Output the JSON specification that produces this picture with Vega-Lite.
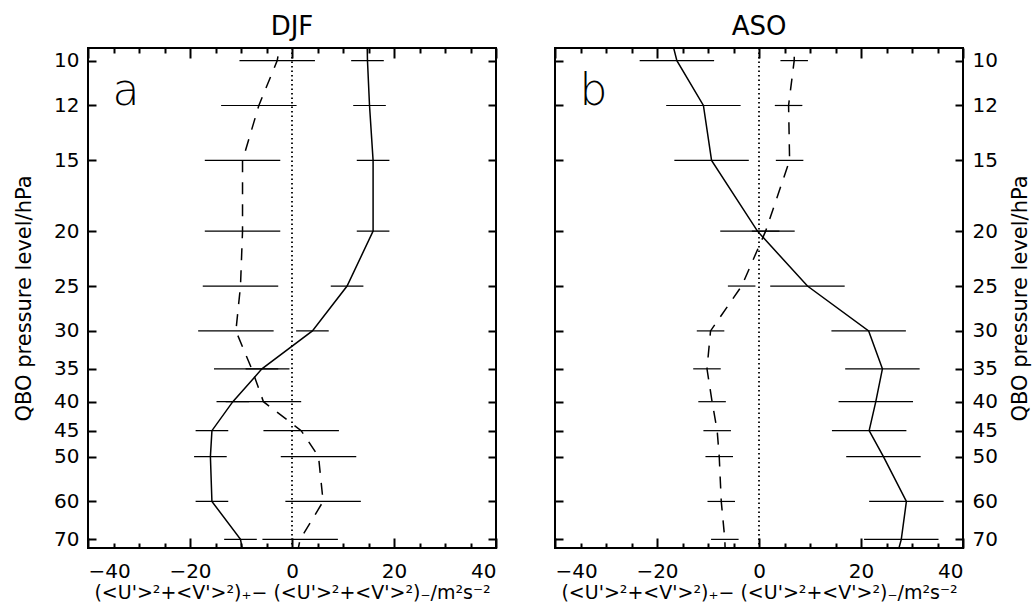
{
  "$schema": "https://vega.github.io/schema/vega-lite/v6.json",
  "padding": {"left": 12, "top": 13, "right": 0, "bottom": 0},
  "background": "white",
  "spacing": 59,
  "bounds": "flush",
  "datasets": {
    "prof": [
      {"season": "DJF", "series": "solid", "p": 9, "v": 14.7},
      {"season": "DJF", "series": "solid", "p": 10, "v": 14.8, "lo": 11.6, "hi": 18.0},
      {"season": "DJF", "series": "solid", "p": 12, "v": 15.2, "lo": 12.0, "hi": 18.4},
      {"season": "DJF", "series": "solid", "p": 15, "v": 15.9, "lo": 12.7, "hi": 19.1},
      {"season": "DJF", "series": "solid", "p": 20, "v": 15.9, "lo": 12.7, "hi": 19.1},
      {"season": "DJF", "series": "solid", "p": 25, "v": 10.8, "lo": 7.6, "hi": 14.0},
      {"season": "DJF", "series": "solid", "p": 30, "v": 4.0, "lo": 0.8, "hi": 7.2},
      {"season": "DJF", "series": "solid", "p": 35, "v": -5.9, "lo": -9.1, "hi": -2.7},
      {"season": "DJF", "series": "solid", "p": 40, "v": -11.6, "lo": -14.8, "hi": -8.4},
      {"season": "DJF", "series": "solid", "p": 45, "v": -15.7, "lo": -18.9, "hi": -12.5},
      {"season": "DJF", "series": "solid", "p": 50, "v": -16.0, "lo": -19.2, "hi": -12.8},
      {"season": "DJF", "series": "solid", "p": 60, "v": -15.7, "lo": -18.9, "hi": -12.5},
      {"season": "DJF", "series": "solid", "p": 70, "v": -10.1, "lo": -13.3, "hi": -6.9},
      {"season": "DJF", "series": "solid", "p": 75, "v": -9.5},
      {"season": "DJF", "series": "dashed", "p": 9, "v": -2.0},
      {"season": "DJF", "series": "dashed", "p": 10, "v": -2.9, "lo": -10.3, "hi": 4.5},
      {"season": "DJF", "series": "dashed", "p": 12, "v": -6.5, "lo": -13.9, "hi": 0.9},
      {"season": "DJF", "series": "dashed", "p": 15, "v": -9.7, "lo": -17.1, "hi": -2.3},
      {"season": "DJF", "series": "dashed", "p": 20, "v": -9.7, "lo": -17.1, "hi": -2.3},
      {"season": "DJF", "series": "dashed", "p": 25, "v": -10.1, "lo": -17.5, "hi": -2.7},
      {"season": "DJF", "series": "dashed", "p": 30, "v": -11.0, "lo": -18.4, "hi": -3.6},
      {"season": "DJF", "series": "dashed", "p": 35, "v": -7.9, "lo": -15.3, "hi": -0.5},
      {"season": "DJF", "series": "dashed", "p": 40, "v": -5.6, "lo": -13.0, "hi": 1.8},
      {"season": "DJF", "series": "dashed", "p": 45, "v": 1.8, "lo": -5.6, "hi": 9.2},
      {"season": "DJF", "series": "dashed", "p": 50, "v": 5.2, "lo": -2.2, "hi": 12.6},
      {"season": "DJF", "series": "dashed", "p": 60, "v": 6.1, "lo": -1.3, "hi": 13.5},
      {"season": "DJF", "series": "dashed", "p": 70, "v": 1.6, "lo": -5.8, "hi": 9.0},
      {"season": "DJF", "series": "dashed", "p": 75, "v": 0.9},
      {"season": "ASO", "series": "solid", "p": 9, "v": -17.4},
      {"season": "ASO", "series": "solid", "p": 10, "v": -16.1, "lo": -23.4, "hi": -8.8},
      {"season": "ASO", "series": "solid", "p": 12, "v": -10.9, "lo": -18.2, "hi": -3.6},
      {"season": "ASO", "series": "solid", "p": 15, "v": -9.3, "lo": -16.6, "hi": -2.0},
      {"season": "ASO", "series": "solid", "p": 20, "v": -0.3, "lo": -7.6, "hi": 7.0},
      {"season": "ASO", "series": "solid", "p": 25, "v": 9.5, "lo": 2.2, "hi": 16.8},
      {"season": "ASO", "series": "solid", "p": 30, "v": 21.5, "lo": 14.2, "hi": 28.8},
      {"season": "ASO", "series": "solid", "p": 35, "v": 24.2, "lo": 16.9, "hi": 31.5},
      {"season": "ASO", "series": "solid", "p": 40, "v": 22.9, "lo": 15.6, "hi": 30.2},
      {"season": "ASO", "series": "solid", "p": 45, "v": 21.6, "lo": 14.3, "hi": 28.9},
      {"season": "ASO", "series": "solid", "p": 50, "v": 24.4, "lo": 17.1, "hi": 31.7},
      {"season": "ASO", "series": "solid", "p": 60, "v": 28.9, "lo": 21.6, "hi": 36.2},
      {"season": "ASO", "series": "solid", "p": 70, "v": 27.9, "lo": 20.6, "hi": 35.2},
      {"season": "ASO", "series": "solid", "p": 75, "v": 27.0},
      {"season": "ASO", "series": "dashed", "p": 9, "v": 7.0},
      {"season": "ASO", "series": "dashed", "p": 10, "v": 6.9, "lo": 4.2, "hi": 9.6},
      {"season": "ASO", "series": "dashed", "p": 12, "v": 5.8, "lo": 3.1, "hi": 8.5},
      {"season": "ASO", "series": "dashed", "p": 15, "v": 6.0, "lo": 3.3, "hi": 8.7},
      {"season": "ASO", "series": "dashed", "p": 20, "v": 1.3, "lo": -1.4, "hi": 4.0},
      {"season": "ASO", "series": "dashed", "p": 25, "v": -3.4, "lo": -6.1, "hi": -0.7},
      {"season": "ASO", "series": "dashed", "p": 30, "v": -9.5, "lo": -12.2, "hi": -6.8},
      {"season": "ASO", "series": "dashed", "p": 35, "v": -10.2, "lo": -12.9, "hi": -7.5},
      {"season": "ASO", "series": "dashed", "p": 40, "v": -9.2, "lo": -11.9, "hi": -6.5},
      {"season": "ASO", "series": "dashed", "p": 45, "v": -8.2, "lo": -10.9, "hi": -5.5},
      {"season": "ASO", "series": "dashed", "p": 50, "v": -7.8, "lo": -10.5, "hi": -5.1},
      {"season": "ASO", "series": "dashed", "p": 60, "v": -7.4, "lo": -10.1, "hi": -4.7},
      {"season": "ASO", "series": "dashed", "p": 70, "v": -6.7, "lo": -9.4, "hi": -4.0},
      {"season": "ASO", "series": "dashed", "p": 75, "v": -6.6}
    ]
  },
  "hconcat": [
    {
      "width": 408,
      "height": 500,
      "title": {"text": "DJF", "offset": 7},
      "resolve": {"axis": {"x": "independent", "y": "independent"}},
      "layer": [
        {
          "data": {"name": "prof"},
          "transform": [{"filter": "datum.season == 'DJF' && isValid(datum.lo)"}],
          "mark": {"type": "rule", "color": "black", "strokeWidth": 1.2},
          "encoding": {
            "x": {"field": "lo", "type": "quantitative", "scale": {"domain": [-40, 40], "nice": false},
              "axis": {"orient": "bottom", "values": [-40, -20, 0, 20, 40], "tickSize": -10, "labelPadding": 23,
                "title": "(<U'>²+<V'>²)₊−  (<U'>²+<V'>²)₋/m²s⁻²", "titlePadding": 2}},
            "x2": {"field": "hi"},
            "y": {"field": "p", "type": "quantitative", "scale": {"type": "log", "domain": [9.5, 72.5], "reverse": true, "nice": false},
              "axis": {"orient": "left", "values": [10, 12, 15, 20, 25, 30, 35, 40, 45, 50, 60, 70], "tickSize": -8, "labelPadding": 17,
                "title": "QBO pressure level/hPa", "titlePadding": 19}}
          }
        },
        {
          "data": {"name": "prof"},
          "transform": [{"filter": "datum.season == 'DJF' && datum.series == 'solid'"}],
          "mark": {"type": "line", "color": "black", "strokeWidth": 1.5, "clip": true},
          "encoding": {
            "x": {"field": "v", "type": "quantitative", "axis": {"orient": "top", "values": [-40, -20, 0, 20, 40], "tickSize": -10, "labels": false, "title": null}},
            "y": {"field": "p", "type": "quantitative", "axis": {"orient": "right", "values": [10, 12, 15, 20, 25, 30, 35, 40, 45, 50, 60, 70], "tickSize": -8, "labels": false, "title": null}},
            "order": {"field": "p", "type": "quantitative"}
          }
        },
        {
          "data": {"name": "prof"},
          "transform": [{"filter": "datum.season == 'DJF' && datum.series == 'dashed'"}],
          "mark": {"type": "line", "color": "black", "strokeWidth": 1.5, "strokeDash": [12, 10], "clip": true},
          "encoding": {
            "x": {"field": "v", "type": "quantitative", "axis": {"orient": "bottom", "values": [-35, -30, -25, -15, -10, -5, 5, 10, 15, 25, 30, 35], "tickSize": -5, "labels": false, "title": null}},
            "y": {"field": "p", "type": "quantitative", "axis": null},
            "order": {"field": "p", "type": "quantitative"}
          }
        },
        {
          "data": {"values": [{"zero": 0}]},
          "mark": {"type": "rule", "color": "black", "strokeWidth": 1.8, "strokeDash": [1.5, 3]},
          "encoding": {
            "x": {"field": "zero", "type": "quantitative", "axis": {"orient": "top", "values": [-35, -30, -25, -15, -10, -5, 5, 10, 15, 25, 30, 35], "tickSize": -5, "labels": false, "title": null}}
          }
        },
        {
          "data": {"values": [{"lab": "a", "x": -35.2, "p": 12}]},
          "mark": {"type": "text", "fontSize": 44, "fontWeight": 200, "align": "left", "baseline": "alphabetic", "color": "black"},
          "encoding": {
            "x": {"field": "x", "type": "quantitative", "axis": null},
            "y": {"field": "p", "type": "quantitative", "axis": null},
            "text": {"field": "lab"}
          }
        }
      ]
    },
    {
      "width": 408,
      "height": 500,
      "title": {"text": "ASO", "offset": 7},
      "resolve": {"axis": {"x": "independent", "y": "independent"}},
      "layer": [
        {
          "data": {"name": "prof"},
          "transform": [{"filter": "datum.season == 'ASO' && isValid(datum.lo)"}],
          "mark": {"type": "rule", "color": "black", "strokeWidth": 1.2},
          "encoding": {
            "x": {"field": "lo", "type": "quantitative", "scale": {"domain": [-40, 40], "nice": false},
              "axis": {"orient": "bottom", "values": [-40, -20, 0, 20, 40], "tickSize": -10, "labelPadding": 23,
                "title": "(<U'>²+<V'>²)₊−  (<U'>²+<V'>²)₋/m²s⁻²", "titlePadding": 2}},
            "x2": {"field": "hi"},
            "y": {"field": "p", "type": "quantitative", "scale": {"type": "log", "domain": [9.5, 72.5], "reverse": true, "nice": false},
              "axis": {"orient": "right", "values": [10, 12, 15, 20, 25, 30, 35, 40, 45, 50, 60, 70], "tickSize": -8, "labelPadding": 17,
                "title": "QBO pressure level/hPa", "titleAngle": 270, "titleBaseline": "top", "titlePadding": 12}}
          }
        },
        {
          "data": {"name": "prof"},
          "transform": [{"filter": "datum.season == 'ASO' && datum.series == 'solid'"}],
          "mark": {"type": "line", "color": "black", "strokeWidth": 1.5, "clip": true},
          "encoding": {
            "x": {"field": "v", "type": "quantitative", "axis": {"orient": "top", "values": [-40, -20, 0, 20, 40], "tickSize": -10, "labels": false, "title": null}},
            "y": {"field": "p", "type": "quantitative", "axis": {"orient": "left", "values": [10, 12, 15, 20, 25, 30, 35, 40, 45, 50, 60, 70], "tickSize": -8, "labels": false, "title": null}},
            "order": {"field": "p", "type": "quantitative"}
          }
        },
        {
          "data": {"name": "prof"},
          "transform": [{"filter": "datum.season == 'ASO' && datum.series == 'dashed'"}],
          "mark": {"type": "line", "color": "black", "strokeWidth": 1.5, "strokeDash": [12, 10], "clip": true},
          "encoding": {
            "x": {"field": "v", "type": "quantitative", "axis": {"orient": "bottom", "values": [-35, -30, -25, -15, -10, -5, 5, 10, 15, 25, 30, 35], "tickSize": -5, "labels": false, "title": null}},
            "y": {"field": "p", "type": "quantitative", "axis": null},
            "order": {"field": "p", "type": "quantitative"}
          }
        },
        {
          "data": {"values": [{"zero": 0}]},
          "mark": {"type": "rule", "color": "black", "strokeWidth": 1.8, "strokeDash": [1.5, 3]},
          "encoding": {
            "x": {"field": "zero", "type": "quantitative", "axis": {"orient": "top", "values": [-35, -30, -25, -15, -10, -5, 5, 10, 15, 25, 30, 35], "tickSize": -5, "labels": false, "title": null}}
          }
        },
        {
          "data": {"values": [{"lab": "b", "x": -35.2, "p": 12}]},
          "mark": {"type": "text", "fontSize": 44, "fontWeight": 200, "align": "left", "baseline": "alphabetic", "color": "black"},
          "encoding": {
            "x": {"field": "x", "type": "quantitative", "axis": null},
            "y": {"field": "p", "type": "quantitative", "axis": null},
            "text": {"field": "lab"}
          }
        }
      ]
    }
  ],
  "config": {
    "font": "DejaVu Sans",
    "view": {"stroke": "black", "strokeWidth": 2},
    "axis": {"grid": false, "domain": false, "tickColor": "black", "tickWidth": 2, "labelColor": "black", "titleColor": "black",
      "labelFontSize": 20, "titleFontSize": 19, "titleFontWeight": "normal", "labelFont": "DejaVu Sans", "titleFont": "DejaVu Sans"},
    "axisY": {"titleFontSize": 21},
    "title": {"fontSize": 26, "fontWeight": "normal", "color": "black", "font": "DejaVu Sans"}
  }
}
